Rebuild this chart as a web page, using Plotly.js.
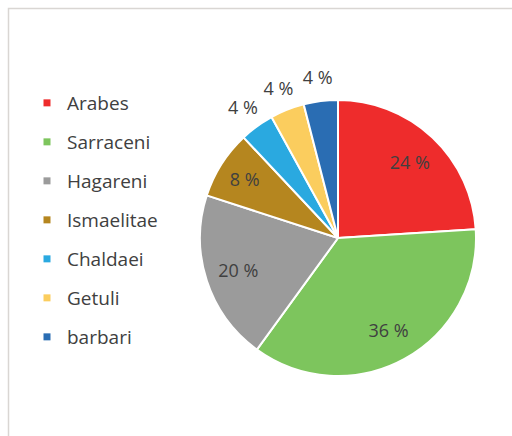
<!DOCTYPE html>
<html>
<head>
<meta charset="utf-8">
<script src="https://cdn.plot.ly/plotly-3.0.1.min.js"></script>
<style>html,body{margin:0;padding:0;background:#fff}#chart{width:512px;height:436px}</style>
</head>
<body>
<div id="chart"></div>
<script>
const categories = ["Arabes", "Sarraceni", "Hagareni", "Ismaelitae", "Chaldaei", "Getuli", "barbari"];
const shares = [24, 36, 20, 8, 4, 4, 4];
const colors = ["#ee2c2c", "#7dc55d", "#9b9b9b", "#b5861f", "#2aa9e0", "#fbcd5e", "#2a6db3"];
const innerLabel = ["inside", "inside", "inside", "inside", "none", "none", "none"];
const outerLabel = ["none", "none", "none", "none", "inside", "inside", "inside"];

const FONT = "Open Sans, Lato, sans-serif";
const TXT = "#404040";
const clear = categories.map(() => "rgba(0,0,0,0)");

const common = {
  type: "pie",
  labels: categories,
  values: shares,
  sort: false,
  direction: "clockwise",
  rotation: 0,
  showlegend: false,
  hoverinfo: "skip",
  texttemplate: "%{value} %",
  insidetextorientation: "horizontal",
  textfont: {family: FONT, size: 18, color: TXT}
};

const traces = [
  Object.assign({}, common, {
    marker: {colors: colors, line: {color: "#ffffff", width: 2}},
    textposition: "none",
    domain: {x: [200/512, 476/512], y: [60/436, 336/436]}
  }),
  Object.assign({}, common, {
    marker: {colors: clear, line: {width: 0}},
    hole: 0.52,
    textposition: innerLabel,
    domain: {x: [200/512, 476/512], y: [60/436, 336/436]}
  }),
  Object.assign({}, common, {
    marker: {colors: clear, line: {width: 0}},
    hole: 0.86,
    textposition: outerLabel,
    domain: {x: [164/512, 1], y: [24/436, 372/436]}
  })
];

categories.forEach((c, i) => {
  traces.push({
    type: "scatter", mode: "markers",
    x: [null], y: [null],
    name: c,
    legendgroup: "g" + i,
    marker: {symbol: "square", size: 7, color: colors[i]},
    showlegend: true,
    hoverinfo: "skip"
  });
});

const layout = {
  width: 512, height: 436,
  margin: {l: 0, r: 0, t: 0, b: 0},
  paper_bgcolor: "#ffffff",
  plot_bgcolor: "#ffffff",
  xaxis: {visible: false},
  yaxis: {visible: false},
  uniformtext: {mode: "show", minsize: 18},
  showlegend: true,
  legend: {
    x: 27/512, xanchor: "left",
    y: 1 - 84/436, yanchor: "top",
    font: {family: FONT, size: 19, color: TXT},
    tracegroupgap: 11.3,
    itemclick: false, itemdoubleclick: false,
    bgcolor: "rgba(0,0,0,0)"
  },
  shapes: [{
    type: "rect", xref: "paper", yref: "paper",
    x0: 8.5/512, x1: 1.02, y0: -0.02, y1: 1 - 8.5/436,
    line: {color: "#d9d6d3", width: 1.5}, fillcolor: "rgba(0,0,0,0)", layer: "below"
  }]
};

Plotly.newPlot("chart", traces, layout, {displayModeBar: false, staticPlot: true});
</script>
</body>
</html>
